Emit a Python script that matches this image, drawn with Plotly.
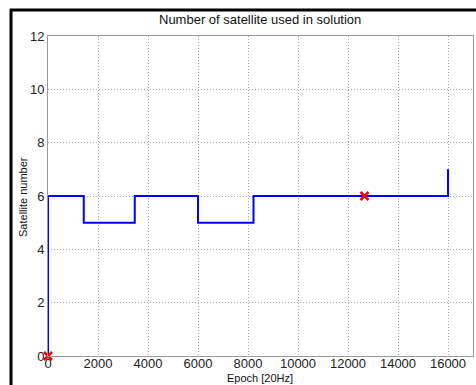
import plotly.graph_objects as go

# Step line: epoch breakpoints and satellite count
epochs = [0, 0, 1430, 1430, 3470, 3470, 6000, 6000, 8220, 8220, 16000, 16000]
sats = [0, 6, 6, 5, 5, 6, 6, 5, 5, 6, 6, 7]

# Red markers
mark_x = [0, 12660]
mark_y = [0, 6]

x_ticks = [0, 2000, 4000, 6000, 8000, 10000, 12000, 14000, 16000]
y_ticks = [0, 2, 4, 6, 8, 10, 12]

fig = go.Figure()
fig.add_trace(go.Scatter(x=epochs, y=sats, mode="lines",
                         line=dict(color="#0000ff", width=2), showlegend=False,
                         cliponaxis=False))
fig.add_trace(go.Scatter(x=mark_x, y=mark_y, mode="markers",
                         marker=dict(symbol="x-thin", size=8, color="red",
                                     line=dict(color="red", width=2.5)),
                         showlegend=False, cliponaxis=False))

L, R, T, B = 48, 3, 36, 29
W, H = 476, 385
pw, ph = W - L - R, H - T - B

def px(x):
    return (x - L) / pw

def py(y):
    return (H - B - y) / ph

fig.update_layout(
    width=W, height=H,
    margin=dict(l=L, r=R, t=T, b=B, autoexpand=False),
    paper_bgcolor="white", plot_bgcolor="white",
    font=dict(family="Liberation Sans, Arial, sans-serif", color="#222", size=13),
    xaxis=dict(range=[0, 17000], tickvals=x_ticks, ticktext=[str(v) for v in x_ticks],
               showgrid=True, gridcolor="#aaaaaa", griddash="1px,2px", gridwidth=1,
               showline=True, linecolor="#999", linewidth=1, mirror=True,
               zeroline=False, ticks="", tickfont=dict(size=13), automargin=False,
               ticklabelstandoff=-5),
    yaxis=dict(range=[0, 12], tickvals=y_ticks,
               showgrid=True, gridcolor="#aaaaaa", griddash="1px,2px", gridwidth=1,
               showline=True, linecolor="#999", linewidth=1, mirror=True,
               zeroline=False, ticks="", tickfont=dict(size=13), automargin=False),
    annotations=[
        dict(text="Number of satellite used in solution", x=px(260), y=py(20),
             xref="paper", yref="paper", showarrow=False, xanchor="center", yanchor="middle",
             font=dict(size=13, color="#111")),
        dict(text="Epoch [20Hz]", x=px(260), y=py(378), xref="paper", yref="paper",
             showarrow=False, xanchor="center", yanchor="middle",
             font=dict(size=11, color="#111")),
        dict(text="Satellite number", x=px(23), y=py(197), xref="paper", yref="paper",
             showarrow=False, textangle=-90, xanchor="center", yanchor="middle",
             font=dict(size=11, color="#111")),
    ],
    shapes=[
        dict(type="line", xref="paper", yref="paper", x0=px(11), x1=px(11),
             y0=py(9), y1=py(386), line=dict(color="black", width=3)),
        dict(type="line", xref="paper", yref="paper", x0=px(10), x1=px(477),
             y0=py(10), y1=py(10), line=dict(color="black", width=3)),
    ],
)

fig.write_html("out.html", config={"displayModeBar": False},
               post_script="document.body.style.margin='0';document.body.style.overflow='hidden';")
